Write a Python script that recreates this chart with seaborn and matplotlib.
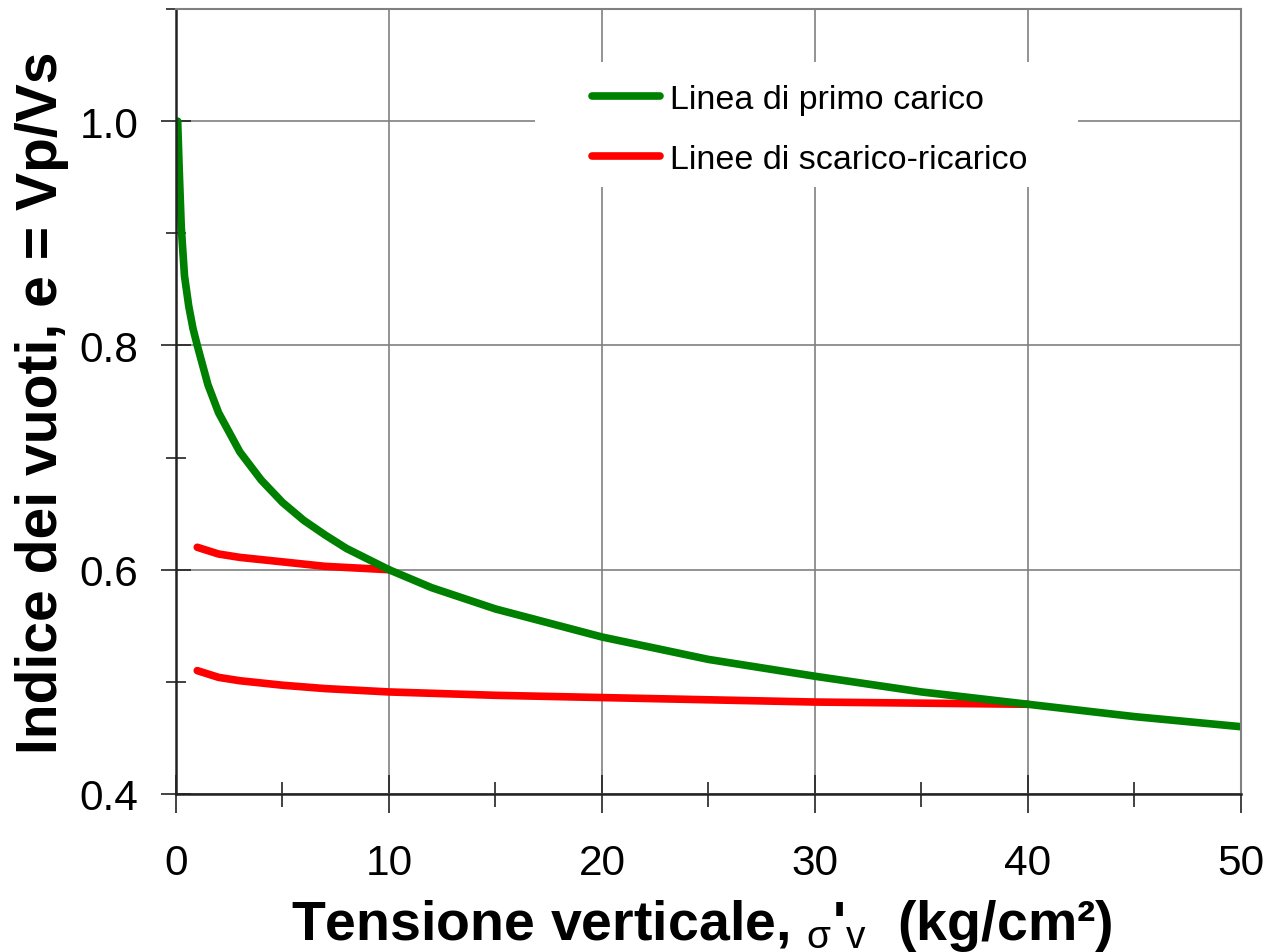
import matplotlib
matplotlib.use("Agg")
import matplotlib.pyplot as plt
from matplotlib.patches import Rectangle
from matplotlib.ticker import MultipleLocator, FormatStrFormatter
import seaborn as sns

# ---------------------------------------------------------------------- #
# Data
# ---------------------------------------------------------------------- #
sigma_primo = [0.08, 0.15, 0.25, 0.4, 0.6, 0.8, 1, 1.5, 2, 3, 4, 5, 6, 7, 8,
               10, 12, 15, 20, 25, 30, 35, 40, 45, 50]
e_primo = [1.000, 0.958, 0.905, 0.862, 0.835, 0.815, 0.800, 0.765, 0.740,
           0.705, 0.680, 0.660, 0.644, 0.631, 0.619, 0.600, 0.584, 0.565,
           0.540, 0.520, 0.505, 0.491, 0.480, 0.469, 0.460]

sigma_scar1 = [1, 2, 3, 5, 7, 10]
e_scar1 = [0.620, 0.614, 0.611, 0.607, 0.603, 0.600]

sigma_scar2 = [1, 2, 3, 5, 7, 10, 15, 20, 25, 30, 35, 40]
e_scar2 = [0.510, 0.504, 0.501, 0.497, 0.494, 0.491, 0.488, 0.486, 0.484,
           0.482, 0.481, 0.480]

lab_primo = "Linea di primo carico"
lab_scar = "Linee di scarico-ricarico"

GREEN = "#008000"
RED = "#ff0000"
GRID = "#808080"

# ---------------------------------------------------------------------- #
# Style
# ---------------------------------------------------------------------- #
sns.set_theme(style="white")
plt.rcParams.update({
    "font.family": ["Liberation Sans", "DejaVu Sans"],
    "mathtext.fontset": "custom",
    "mathtext.rm": "Liberation Sans",
    "mathtext.it": "Liberation Sans:italic",
    "mathtext.bf": "Liberation Sans:bold",
    "text.color": "black",
    "axes.labelcolor": "black",
    "xtick.color": "black",
    "ytick.color": "black",
})

fig = plt.figure(figsize=(12.77, 9.53), dpi=100)
ax = fig.add_axes([0.1378, 0.1658, 0.8340, 0.8237])

sns.lineplot(x=sigma_scar1, y=e_scar1, color=RED, linewidth=5.5,
             solid_capstyle="round", label=lab_scar, ax=ax)
sns.lineplot(x=sigma_scar2, y=e_scar2, color=RED, linewidth=5.5,
             solid_capstyle="round", ax=ax)
sns.lineplot(x=sigma_primo, y=e_primo, color=GREEN, linewidth=5.5,
             solid_capstyle="round", label=lab_primo, ax=ax)

ax.set_xlim(0, 50)
ax.set_ylim(0.4, 1.1)
ax.xaxis.set_major_locator(MultipleLocator(10))
ax.xaxis.set_minor_locator(MultipleLocator(5))
ax.yaxis.set_major_locator(MultipleLocator(0.2))
ax.yaxis.set_minor_locator(MultipleLocator(0.1))
ax.yaxis.set_major_formatter(FormatStrFormatter("%.1f"))

ax.set_axisbelow(True)
ax.grid(True, which="major", color=GRID, linewidth=1.2)
ax.grid(False, which="minor")

for side in ("left", "bottom"):
    ax.spines[side].set_color("#222222")
    ax.spines[side].set_linewidth(1.8)
for side in ("top", "right"):
    ax.spines[side].set_color(GRID)
    ax.spines[side].set_linewidth(1.5)

ax.tick_params(axis="both", which="both", direction="inout", color="#222222",
               width=1.2, labelsize=30.5, labelcolor="black",
               bottom=True, left=True, top=False, right=False)
ax.tick_params(axis="x", which="major", length=28, pad=21)
ax.tick_params(axis="x", which="minor", length=18)
ax.tick_params(axis="y", which="major", length=22, pad=16)
ax.tick_params(axis="y", which="minor", length=14)

ax.set_xlabel(r"Tensione verticale, $_{\mathrm{σ}}$'$_{\mathrm{v}}$  (kg/cm²)",
              fontsize=40, fontweight="bold")
ax.set_ylabel("Indice dei vuoti, e = Vp/Vs", fontsize=41, fontweight="bold")
ax.xaxis.set_label_coords(0.494, -0.131)
ax.yaxis.set_label_coords(-0.100, 0.5)

# white box behind the legend (hides the grid there)
ax.add_patch(Rectangle((0.337, 0.773), 0.510, 0.159, transform=ax.transAxes,
                       facecolor="white", edgecolor="none", zorder=1.5))

handles, labels = ax.get_legend_handles_labels()
order = [labels.index(lab_primo), labels.index(lab_scar)]
ax.legend([handles[i] for i in order], [labels[i] for i in order],
          loc="upper left", bbox_to_anchor=(0.362, 0.943), frameon=False,
          fontsize=24.5, handlelength=2.0, handletextpad=0.3,
          labelspacing=0.85, borderpad=0.4)

fig.savefig("out.png", dpi=100)
